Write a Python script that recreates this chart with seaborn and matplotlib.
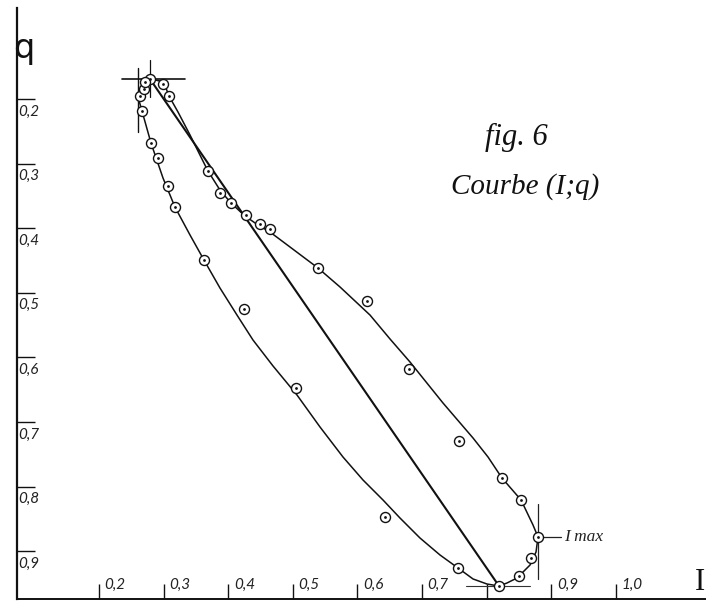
import matplotlib
matplotlib.use('Agg')
import matplotlib.pyplot as plt
from matplotlib.transforms import ScaledTranslation
import pandas as pd
import seaborn as sns

# courbe (I;q)
curve_I = [.2789, .2944, .3037, .3084, .3223, .3409, .3563, .3687, .3873, .4043,
           .4260, .4461, .4647, .4957, .5390, .5731, .6195, .6505, .6814, .7325,
           .7790, .8022, .8238, .8533, .8718, .8796, .8765, .8672, .8471, .8316,
           .8192, .8006, .7790, .7557, .7279, .6969, .6659, .6396, .6087, .5777,
           .5421, .5065, .4694, .4384, .4136, .3873, .3625, .3409, .3176, .2991,
           .2805, .2666, .2604, .2650, .2728, .2789]
curve_q = [.1690, .1721, .1830, .1954, .2201, .2557, .2867, .3115, .3409, .3610,
           .3811, .3950, .4059, .4291, .4616, .4910, .5344, .5715, .6071, .6706,
           .7248, .7542, .7867, .8207, .8594, .8780, .9012, .9214, .9415, .9492,
           .9539, .9508, .9430, .9260, .9059, .8796, .8486, .8207, .7898, .7542,
           .7077, .6582, .6133, .5731, .5344, .4926, .4492, .4105, .3672, .3223,
           .2681, .2186, .1969, .1830, .1721, .1690]

# points de mesure
point_I = [.2794, .2991, .3079, .3683, .3868, .4048, .4271, .4488, .4647, .5390,
           .6149, .6799, .7568, .8238, .8533, .8796, .8687, .8502, .8192, .7557,
           .6427, .5050, .4249, .3625, .3172, .3063, .2909, .2810, .2666, .2635,
           .2697, .2712]
point_q = [.1695, .1768, .1954, .3115, .3455, .3610, .3796, .3935, .4012, .4616,
           .5127, .6180, .7289, .7867, .8207, .8780, .9105, .9384, .9539, .9260,
           .8471, .6474, .5255, .4492, .3667, .3347, .2913, .2681, .2186, .1954,
           .1845, .1737]

chord_I = [.2789, .8192]
chord_q = [.1690, .9539]

ticks_I = [.2, .3, .4, .5, .6, .7, .8, .9, 1.0]
labels_I = ['0,2', '0,3', '0,4', '0,5', '0,6', '0,7', '', '0,9', '1,0']
ticks_q = [.2, .3, .4, .5, .6, .7, .8, .9]
labels_q = ['0,2', '0,3', '0,4', '0,5', '0,6', '0,7', '0,8', '0,9']

sns.set_theme(style='white')
plt.rcParams['font.family'] = ['Liberation Serif', 'DejaVu Sans']

fig = plt.figure(figsize=(7.06, 6.03), dpi=100)
ax = fig.add_axes([17/706, 4/603, 689/706, 591/603])

df_curve = pd.DataFrame({'I': curve_I, 'q': curve_q})
df_points = pd.DataFrame({'I': point_I, 'q': point_q})

sns.lineplot(data=df_curve, x='I', y='q', sort=False, estimator=None, color='#111111', lw=1.1, ax=ax)
sns.lineplot(x=chord_I, y=chord_q, sort=False, estimator=None, color='#111111', lw=1.5, ax=ax)

# reperes de construction
ax.plot([.2356, .3331], [.1690, .1690], color='#111111', lw=1.2)
ax.plot([.2789, .2789], [.1396, .1969], color='#111111', lw=0.9)
ax.plot([.2604, .2604], [.1520, .2511], color='#111111', lw=1.0)
ax.plot([.7681, .8672], [.9539, .9539], color='#333333', lw=0.8)
ax.plot([.8796, .8796], [.8269, .9430], color='#222222', lw=0.9)
ax.plot([.8796, .9152], [.8780, .8780], color='#222222', lw=0.9)

sns.scatterplot(data=df_points, x='I', y='q', s=52, marker='o', facecolor='white',
                edgecolor='#111111', linewidth=1.0, zorder=4, ax=ax)
sns.scatterplot(data=df_points, x='I', y='q', s=4, marker='o', color='#111111',
                linewidth=0, zorder=5, ax=ax)

ax.set_xlim(.0731, 1.1396)
ax.set_ylim(.9740, .0591)
ax.set_xlabel('')
ax.set_ylabel('')
ax.set_xticks(ticks_I)
ax.set_xticklabels(labels_I, ha='left', style='italic', family='Lato')
ax.set_yticks(ticks_q)
ax.set_yticklabels(labels_q, ha='left', va='top', style='italic', family='Lato')
ax.tick_params(axis='x', direction='in', length=11, width=1.0, color='#111111', pad=-15,
               labelsize=11, labelcolor='#222222', bottom=True)
ax.tick_params(axis='y', direction='in', length=13, width=1.0, color='#111111', pad=-1,
               labelsize=11, labelcolor='#222222', left=True)
# les chiffres sont a droite du trait en x, sous le trait en q
shift_x = ScaledTranslation(4/72, 0, fig.dpi_scale_trans)
shift_y = ScaledTranslation(0, -4/72, fig.dpi_scale_trans)
for lab in ax.get_xticklabels():
    lab.set_transform(lab.get_transform() + shift_x)
for lab in ax.get_yticklabels():
    lab.set_transform(lab.get_transform() + shift_y)
sns.despine(ax=ax)
ax.spines['left'].set_linewidth(1.6)
ax.spines['bottom'].set_linewidth(1.4)
ax.spines['left'].set_color('#111111')
ax.spines['bottom'].set_color('#111111')

ax.text(.8455, .2588, 'fig. 6', fontsize=22, style='italic', ha='center', va='center', color='#111111')
ax.text(.8594, .3362, 'Courbe (I;q)', fontsize=21, style='italic', ha='center', va='center', color='#111111')
ax.text(.9198, .8780, 'I max', fontsize=12.5, style='italic', ha='left', va='center', color='#222222')
ax.text(.0839, .1211, 'q', fontsize=24, family='DejaVu Sans', ha='center', va='center', color='#111111')
ax.text(1.1303, .9477, 'I', fontsize=22, ha='center', va='center', color='#111111')

fig.savefig('out.png', dpi=100)
